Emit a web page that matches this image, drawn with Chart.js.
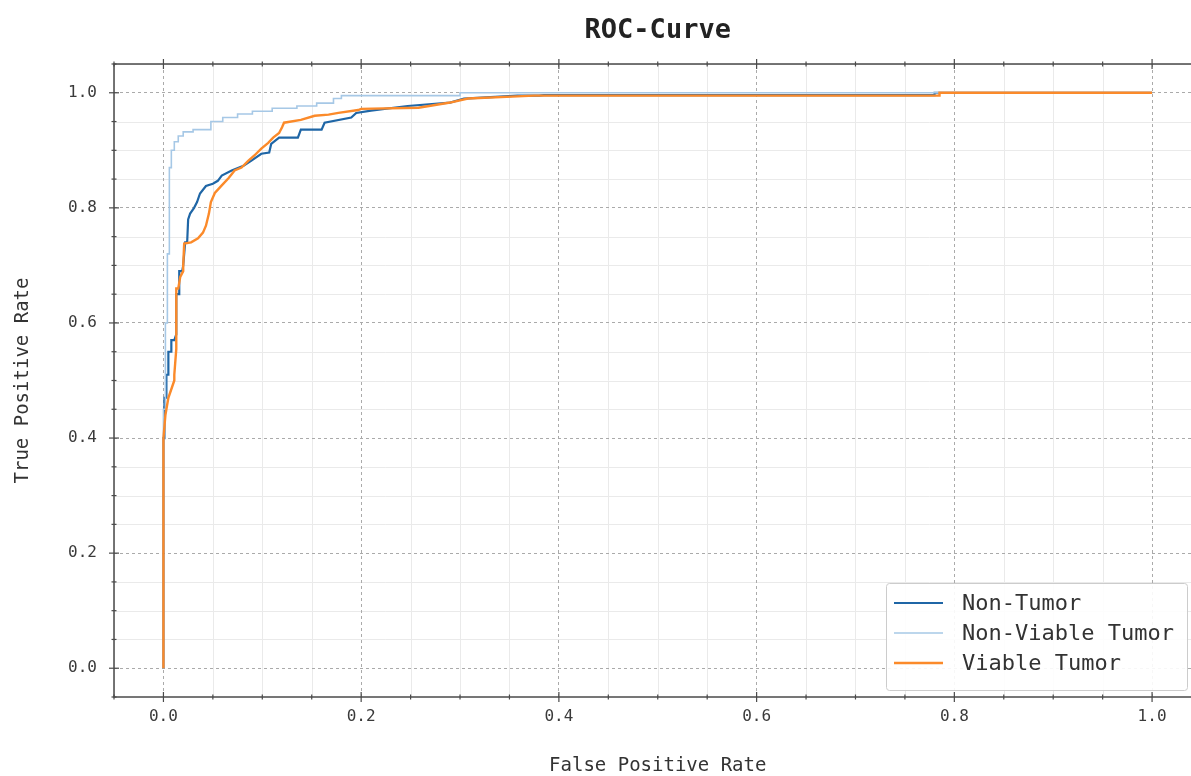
<!DOCTYPE html>
<html>
<head>
<meta charset="utf-8">
<script src="https://cdn.jsdelivr.net/npm/chart.js@4.4.0/dist/chart.umd.min.js"></script>
<style>
  html, body { margin: 0; padding: 0; background: #fff; overflow: hidden; width: 1191px; height: 776px; }
  #wrap { width: 1212px; height: 776px; position: relative; }
</style>
</head>
<body>
<div id="wrap"><canvas id="c"></canvas></div>
<script>
// ---- Data ----
const chartTitle = "ROC-Curve";
const xAxisTitle = "False Positive Rate";
const yAxisTitle = "True Positive Rate";
const seriesNames = ["Non-Tumor", "Non-Viable Tumor", "Viable Tumor"];

const xTickValues = [0, 0.2, 0.4, 0.6, 0.8, 1.0];
const xTickLabels = ["0.0", "0.2", "0.4", "0.6", "0.8", "1.0"];
const yTickValues = [0, 0.2, 0.4, 0.6, 0.8, 1.0];
const yTickLabels = ["0.0", "0.2", "0.4", "0.6", "0.8", "1.0"];

const nonTumorFPR = [0, 0, 0.001, 0.001, 0.003, 0.003, 0.005, 0.005, 0.008, 0.008, 0.011, 0.013, 0.013, 0.016, 0.016, 0.019, 0.020, 0.022, 0.024, 0.025, 0.027, 0.031, 0.034, 0.037, 0.043, 0.050, 0.055, 0.059, 0.069, 0.081, 0.089, 0.099, 0.107, 0.109, 0.117, 0.136, 0.139, 0.160, 0.163, 0.190, 0.195, 0.210, 0.247, 0.290, 0.304, 0.358, 0.380, 0.385, 0.780, 0.780, 1.0];
const nonTumorTPR = [0, 0.40, 0.40, 0.47, 0.47, 0.51, 0.51, 0.55, 0.55, 0.57, 0.57, 0.58, 0.65, 0.65, 0.69, 0.69, 0.70, 0.74, 0.74, 0.78, 0.79, 0.80, 0.81, 0.825, 0.838, 0.842, 0.847, 0.856, 0.865, 0.873, 0.882, 0.894, 0.896, 0.911, 0.922, 0.922, 0.936, 0.936, 0.948, 0.957, 0.965, 0.969, 0.977, 0.983, 0.990, 0.995, 0.995, 0.996, 0.996, 1.0, 1.0];

const nonViableFPR = [0, 0, 0.002, 0.002, 0.004, 0.004, 0.006, 0.006, 0.008, 0.008, 0.011, 0.011, 0.015, 0.015, 0.020, 0.020, 0.030, 0.030, 0.048, 0.048, 0.060, 0.060, 0.075, 0.075, 0.090, 0.090, 0.110, 0.110, 0.135, 0.135, 0.155, 0.155, 0.172, 0.172, 0.180, 0.180, 0.300, 0.300, 1.0];
const nonViableTPR = [0, 0.45, 0.45, 0.60, 0.60, 0.72, 0.72, 0.87, 0.87, 0.90, 0.90, 0.915, 0.915, 0.925, 0.925, 0.932, 0.932, 0.936, 0.936, 0.950, 0.950, 0.957, 0.957, 0.963, 0.963, 0.968, 0.968, 0.973, 0.973, 0.977, 0.977, 0.982, 0.982, 0.990, 0.990, 0.995, 0.995, 1.0, 1.0];

const viableFPR = [0, 0, 0.002, 0.005, 0.009, 0.011, 0.011, 0.013, 0.013, 0.015, 0.017, 0.020, 0.020, 0.021, 0.028, 0.035, 0.040, 0.043, 0.046, 0.048, 0.052, 0.059, 0.066, 0.072, 0.079, 0.086, 0.092, 0.099, 0.106, 0.111, 0.117, 0.120, 0.122, 0.139, 0.153, 0.167, 0.177, 0.197, 0.200, 0.258, 0.290, 0.308, 0.375, 0.785, 0.785, 1.0];
const viableTPR = [0, 0.40, 0.44, 0.47, 0.49, 0.50, 0.51, 0.555, 0.66, 0.66, 0.68, 0.69, 0.70, 0.738, 0.74, 0.747, 0.757, 0.769, 0.79, 0.81, 0.826, 0.839, 0.852, 0.865, 0.870, 0.882, 0.891, 0.903, 0.913, 0.922, 0.930, 0.940, 0.948, 0.953, 0.960, 0.962, 0.965, 0.970, 0.972, 0.974, 0.983, 0.990, 0.995, 0.995, 1.0, 1.0];

const seriesColors = ["#1f66a6", "#a6c8e6", "#fb8a2a"];
const seriesWidths = [2.2, 1.6, 2.4];

// ---- Build ----
const FONT = "'DejaVu Sans Mono', monospace";
const toPts = (xs, ys) => xs.map((x, i) => ({ x: x, y: ys[i] }));
const seriesFPR = [nonTumorFPR, nonViableFPR, viableFPR];
const seriesTPR = [nonTumorTPR, nonViableTPR, viableTPR];

const datasets = seriesNames.map((name, i) => ({
  label: name,
  data: toPts(seriesFPR[i], seriesTPR[i]),
  borderColor: seriesColors[i],
  backgroundColor: seriesColors[i],
  borderWidth: seriesWidths[i],
  showLine: true,
  pointRadius: 0,
  tension: 0,
  fill: false,
  order: seriesNames.length - i
}));

function range(a, b, step) {
  const out = [];
  for (let v = a; v <= b + 1e-9; v += step) out.push(Math.round(v * 1000) / 1000);
  return out;
}
const minorVals = range(-0.05, 1.05, 0.05);

const decorPlugin = {
  id: 'decor',
  beforeDraw(chart) {
    const { ctx, chartArea: a, scales } = chart;
    const xs = scales.x, ys = scales.y;
    ctx.save();
    ctx.beginPath();
    ctx.rect(a.left, a.top, a.right - a.left, a.bottom - a.top);
    ctx.clip();
    ctx.strokeStyle = '#eaeaea';
    ctx.lineWidth = 1;
    minorVals.forEach(v => {
      if (xTickValues.some(t => Math.abs(t - v) < 1e-6)) return;
      const px = Math.round(xs.getPixelForValue(v)) + 0.5;
      ctx.beginPath(); ctx.moveTo(px, a.top); ctx.lineTo(px, a.bottom); ctx.stroke();
    });
    minorVals.forEach(v => {
      if (yTickValues.some(t => Math.abs(t - v) < 1e-6)) return;
      const py = Math.round(ys.getPixelForValue(v)) + 0.5;
      ctx.beginPath(); ctx.moveTo(a.left, py); ctx.lineTo(a.right, py); ctx.stroke();
    });
    ctx.restore();
  },
  afterDraw(chart) {
    const { ctx, chartArea: a, scales } = chart;
    const xs = scales.x, ys = scales.y;
    ctx.save();
    // frame
    ctx.strokeStyle = '#4a4a4a';
    ctx.lineWidth = 1.5;
    ctx.strokeRect(a.left, a.top, a.right - a.left, a.bottom - a.top);
    // ticks (in-out)
    ctx.lineWidth = 1.2;
    minorVals.forEach(v => {
      const major = xTickValues.some(t => Math.abs(t - v) < 1e-6);
      const L = major ? 5 : 2.5;
      const px = xs.getPixelForValue(v);
      ctx.beginPath(); ctx.moveTo(px, a.bottom - L); ctx.lineTo(px, a.bottom + L); ctx.stroke();
      ctx.beginPath(); ctx.moveTo(px, a.top - L); ctx.lineTo(px, a.top + L); ctx.stroke();
    });
    minorVals.forEach(v => {
      const major = yTickValues.some(t => Math.abs(t - v) < 1e-6);
      const L = major ? 5 : 2.5;
      const py = ys.getPixelForValue(v);
      ctx.beginPath(); ctx.moveTo(a.left - L, py); ctx.lineTo(a.left + L, py); ctx.stroke();
    });
    // title
    ctx.fillStyle = '#222';
    ctx.font = "bold 27px " + FONT;
    ctx.textAlign = 'center';
    ctx.textBaseline = 'middle';
    ctx.fillText(chartTitle, (a.left + a.right) / 2, 31);
    // legend box (inside plot, lower right)
    const bx = a.left + 772, by = a.bottom - 114, bw = 301, bh = 107;
    ctx.fillStyle = 'rgba(255,255,255,0.9)';
    ctx.strokeStyle = '#cccccc';
    ctx.lineWidth = 1;
    ctx.beginPath();
    if (ctx.roundRect) ctx.roundRect(bx + 0.5, by + 0.5, bw, bh, 3); else ctx.rect(bx + 0.5, by + 0.5, bw, bh);
    ctx.fill(); ctx.stroke();
    ctx.font = "22px " + FONT;
    ctx.textAlign = 'left';
    chart.data.datasets.forEach((ds, i) => {
      const yy = by + 20 + i * 30;
      ctx.strokeStyle = ds.borderColor;
      ctx.lineWidth = ds.borderWidth;
      ctx.beginPath(); ctx.moveTo(bx + 8, yy); ctx.lineTo(bx + 57, yy); ctx.stroke();
      ctx.fillStyle = '#333';
      ctx.fillText(ds.label, bx + 76, yy + 1);
    });
    ctx.restore();
  }
};

new Chart(document.getElementById('c'), {
  type: 'scatter',
  data: { datasets },
  plugins: [decorPlugin],
  options: {
    responsive: true,
    maintainAspectRatio: false,
    animation: false,
    events: [],
    layout: { padding: { top: 64, left: 0, right: 10.5, bottom: 0 } },
    plugins: { legend: { display: false }, title: { display: false }, tooltip: { enabled: false } },
    scales: {
      x: {
        type: 'linear', min: -0.05, max: 1.05,
        afterBuildTicks: s => { s.ticks = xTickValues.map(v => ({ value: v })); },
        afterFit: s => { s.height = 79; },
        ticks: { callback: (v, i) => xTickLabels[i], font: { family: FONT, size: 16 }, color: '#3a3a3a', padding: 5, maxRotation: 0, autoSkip: false },
        grid: { color: '#aaaaaa', lineWidth: 1, drawTicks: true, tickLength: 5, tickColor: 'rgba(0,0,0,0)' },
        border: { display: false, dash: [3, 3] },
        title: { display: true, text: xAxisTitle, font: { family: FONT, size: 19, lineHeight: 1.0 }, color: '#333', padding: 0 }
      },
      y: {
        type: 'linear', min: -0.05, max: 1.05,
        afterBuildTicks: s => { s.ticks = yTickValues.map(v => ({ value: v })); },
        afterFit: s => { s.width = 114; },
        ticks: { callback: (v, i) => yTickLabels[i], font: { family: FONT, size: 16 }, color: '#3a3a3a', padding: 12, autoSkip: false },
        grid: { color: '#aaaaaa', lineWidth: 1, drawTicks: true, tickLength: 5, tickColor: 'rgba(0,0,0,0)' },
        border: { display: false, dash: [3, 3] },
        title: { display: true, text: yAxisTitle, font: { family: FONT, size: 19 }, color: '#333', padding: { top: 12, bottom: 0 } }
      }
    }
  }
});
</script>
</body>
</html>
